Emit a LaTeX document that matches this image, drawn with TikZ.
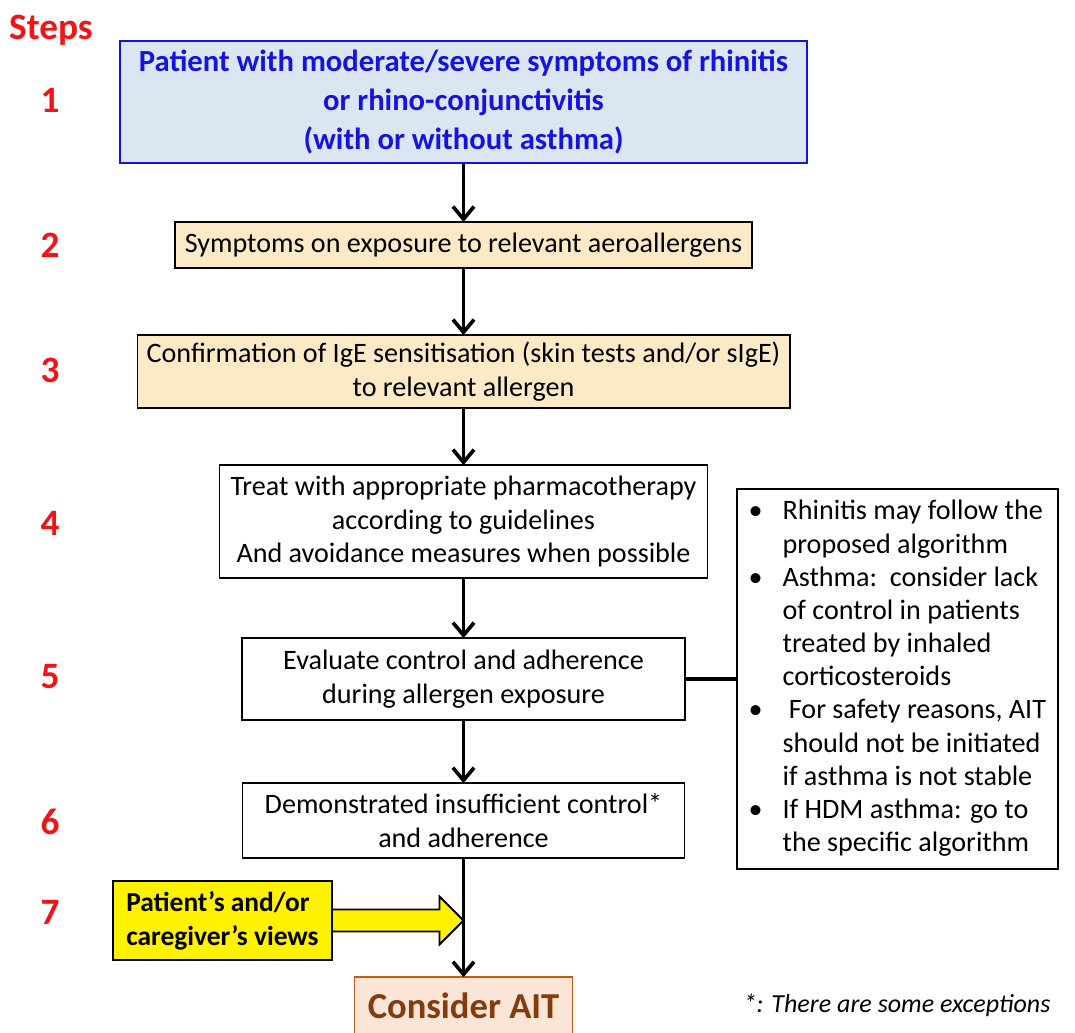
\documentclass[tikz,border=0pt]{standalone}
\usepackage{fontspec}
\setmainfont{Carlito}
\usetikzlibrary{positioning, arrows.meta}
\definecolor{stepred}{RGB}{240,20,20}
\definecolor{topblue}{RGB}{20,20,225}
\definecolor{topfill}{RGB}{220,230,242}
\definecolor{beige}{RGB}{252,234,198}
\definecolor{aitfill}{RGB}{251,229,214}
\definecolor{aitdraw}{RGB}{197,90,17}
\definecolor{aittext}{RGB}{132,60,12}

\begin{document}
\begin{tikzpicture}[x=0.025cm, y=-0.025cm, node distance=1.5cm,
  box/.style={draw, line width=1.3pt, align=center, inner sep=2pt, outer sep=0pt,
    font=\fontsize{20}{23.6}\selectfont},
  flow/.style={-{Straight Barb[length=9pt,width=15pt]}, line width=2.6pt},
  steplabel/.style={text=stepred, font=\fontsize{26.5}{30}\selectfont\bfseries}]
  \useasboundingbox (0,0) rectangle (1075,1032);

  % step numbers
  \node [steplabel] (steps) at (51,30) {Steps};
  \foreach \n/\y in {1/100, 2/245, 3/370, 4/523, 5/677, 6/822, 7/912}
    \node [steplabel] (s\n) at (50,\y) {\n};

  % flow boxes
  \node [box, draw=topblue, fill=topfill, text=topblue,
    font=\fontsize{21.8}{27.5}\selectfont\bfseries,
    minimum width=17.175cm, minimum height=3.05cm] (patient) at (463.5,102)
    {Patient with moderate/severe symptoms of rhinitis\\or rhino-conjunctivitis\\(with or without asthma)};
  \node [box, fill=beige, minimum width=14.425cm, minimum height=1.15cm]
    [below = 1.475cm of patient] (symptoms) {Symptoms on exposure to relevant aeroallergens};
  \node [box, fill=beige, minimum width=16.3cm, minimum height=1.825cm]
    [below = 1.675cm of symptoms] (confirm) {Confirmation of IgE sensitisation (skin tests and/or sIgE)\\to relevant allergen};
  \node [box, minimum width=12.2cm, minimum height=2.825cm]
    [below = 1.425cm of confirm] (treat) {Treat with appropriate pharmacotherapy\\according to guidelines\\And avoidance measures when possible};
  \node [box, minimum width=11.075cm, minimum height=2.05cm]
    [below = 1.5cm of treat] (evaluate) {Evaluate control and adherence\\during allergen exposure};
  \node [box, minimum width=11.05cm, minimum height=1.875cm]
    [below = 1.575cm of evaluate] (insufficient) {Demonstrated insufficient control*\\and adherence};
  \node [box, draw=aitdraw, fill=aitfill, text=aittext,
    font=\fontsize{26}{30}\selectfont\bfseries,
    minimum width=5.45cm, minimum height=1.45cm]
    [below = 2.975cm of insufficient] (ait) {Consider AIT};

  % side notes
  \node [box, align=left, minimum width=8.025cm, minimum height=9.5cm]
    [right = 1.3cm of evaluate] (notes) {%
    \begin{tabular}{@{}p{1.05cm}@{}p{6.8cm}@{}}
      \hspace{0.2cm}\textbullet & Rhinitis may follow the\newline proposed algorithm\\
      \hspace{0.2cm}\textbullet & Asthma:\ \ consider lack\newline of control in patients\newline treated by inhaled\newline corticosteroids\\
      \hspace{0.2cm}\textbullet & \ For safety reasons, AIT\newline should not be initiated\newline if asthma is not stable\\
      \hspace{0.2cm}\textbullet & If HDM asthma: go to\newline the specific algorithm
    \end{tabular}};

  % patient views
  \node [box, fill=yellow, align=left, font=\fontsize{19.5}{24.2}\selectfont\bfseries,
    minimum width=5.475cm, minimum height=1.975cm] (views) at (222.5,920.5)
    {Patient's and/or\\caregiver's views};
  \node [font=\fontsize{18.5}{24}\selectfont\itshape] (note) at (897,1005) {*: There are some exceptions};

  % edges
  \draw [flow] (patient) -- (symptoms);
  \draw [flow] (symptoms) -- (confirm);
  \draw [flow] (confirm) -- (treat);
  \draw [flow] (treat) -- (evaluate);
  \draw [flow] (evaluate) -- (insufficient);
  \draw [line width=2.6pt] (evaluate) -- (notes);
  \coordinate (join) at (insufficient.south |- views.east);
  \draw [flow] (insufficient.south) -- (ait.north);
  \draw [fill=yellow, line width=1.3pt]
    ([yshift=0.275cm]views.east) -- ([xshift=-0.6cm, yshift=0.275cm]join)
    -- ([xshift=-0.6cm, yshift=0.6cm]join) -- (join)
    -- ([xshift=-0.6cm, yshift=-0.6cm]join) -- ([xshift=-0.6cm, yshift=-0.275cm]join)
    -- ([yshift=-0.275cm]views.east) -- cycle;
\end{tikzpicture}
\end{document}
